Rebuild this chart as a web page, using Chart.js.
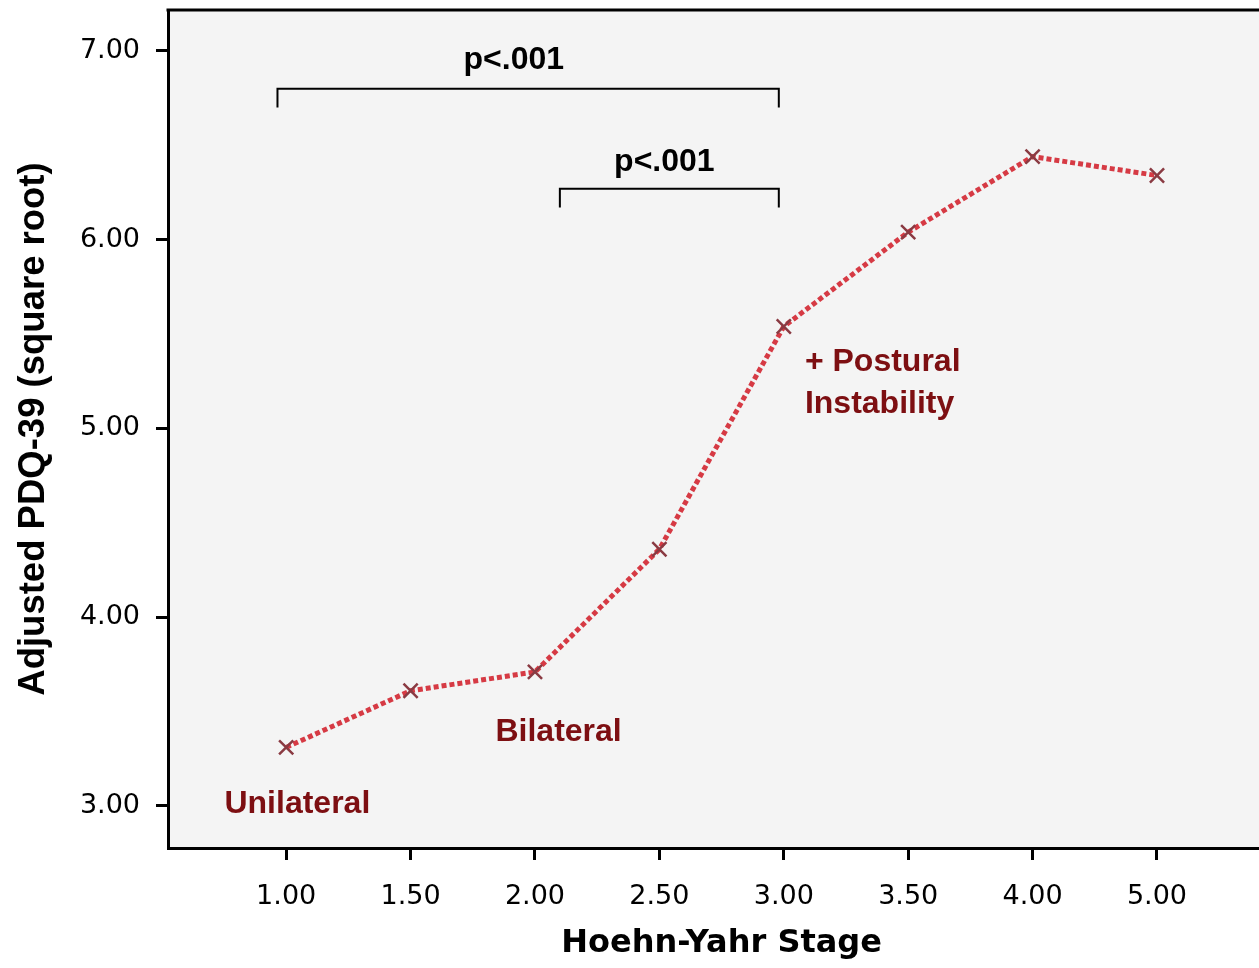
<!DOCTYPE html>
<html>
<head>
<meta charset="utf-8">
<script src="https://cdn.jsdelivr.net/npm/chart.js@4.4.0/dist/chart.umd.min.js"></script>
<style>
  html, body { margin: 0; padding: 0; background: #ffffff; overflow: hidden; }
  canvas { display: block; }
</style>
</head>
<body>
<canvas id="pdqChart" width="1259" height="968"></canvas>
<script>
// Hoehn-Yahr stages (equally spaced categories)
var stages = ['1.00', '1.50', '2.00', '2.50', '3.00', '3.50', '4.00', '5.00'];
var pdqValues = [3.31, 3.61, 3.71, 4.36, 5.54, 6.04, 6.44, 6.34];
var yTicks = [3, 4, 5, 6, 7];
var xTitle = 'Hoehn-Yahr Stage';

// significance brackets: [x from, x to (stage index), y top, y bottom]
var brackets = [[-0.07, 3.96, 6.80, 6.70], [2.20, 3.96, 6.27, 6.17]];
var bracketLabels = [['p<.001', 1.83, 6.95], ['p<.001', 3.04, 6.41]];
// group labels: [text, x, y, align]
var groupLabels = [
    ['Unilateral', 0.09, 3.01, 'center'],
    ['Bilateral', 2.19, 3.39, 'center'],
    ['+ Postural', 4.17, 5.35, 'left'],
    ['Instability', 4.17, 5.13, 'left']
];

var decorPlugin = {
    id: 'decor',
    beforeDraw: function (chart) {
        var c = chart.ctx, a = chart.chartArea;
        c.save();
        c.fillStyle = '#ffffff';
        c.fillRect(0, 0, chart.width, chart.height);
        c.fillStyle = '#f4f4f4';
        c.fillRect(a.left, a.top, a.right - a.left, a.bottom - a.top);
        c.restore();
    },
    afterDraw: function (chart) {
        var c = chart.ctx, a = chart.chartArea;
        var xs = chart.scales.x, ys = chart.scales.y;
        c.save();
        // top frame line
        c.strokeStyle = '#000';
        c.lineWidth = 3;
        c.beginPath();
        c.moveTo(a.left - 1.5, a.top);
        c.lineTo(a.right, a.top);
        c.stroke();

        c.lineWidth = 2;
        brackets.forEach(function (b) {
            var x1 = xs.getPixelForValue(b[0]), x2 = xs.getPixelForValue(b[1]);
            var yt = ys.getPixelForValue(b[2]), yb = ys.getPixelForValue(b[3]);
            c.beginPath();
            c.moveTo(x1, yb);
            c.lineTo(x1, yt);
            c.lineTo(x2, yt);
            c.lineTo(x2, yb);
            c.stroke();
        });

        c.fillStyle = '#000';
        c.font = 'bold 32px "Liberation Sans", Arial, sans-serif';
        c.textAlign = 'center';
        c.textBaseline = 'middle';
        bracketLabels.forEach(function (t) {
            c.fillText(t[0], xs.getPixelForValue(t[1]), ys.getPixelForValue(t[2]));
        });

        c.fillStyle = '#7d0f12';
        groupLabels.forEach(function (t) {
            c.textAlign = t[3];
            c.fillText(t[0], xs.getPixelForValue(t[1]), ys.getPixelForValue(t[2]));
        });

        // x axis title, centred on the tick range
        c.fillStyle = '#000';
        c.textAlign = 'center';
        c.font = 'bold 32px "DejaVu Sans", Verdana, sans-serif';
        var mid = (xs.getPixelForValue(0) + xs.getPixelForValue(stages.length - 1)) / 2;
        c.fillText(xTitle, mid, xs.bottom - 24);
        c.restore();
    }
};

var ctx = document.getElementById('pdqChart').getContext('2d');
var chart = new Chart(ctx, {
    type: 'line',
    data: {
        datasets: [{
            data: pdqValues.map(function (v, i) { return { x: i, y: v }; }),
            borderColor: 'rgba(214, 58, 68, 1)',
            borderWidth: 5,
            borderDash: [5, 3],
            fill: false,
            tension: 0,
            pointStyle: 'crossRot',
            pointRadius: 10,
            pointBorderWidth: 2.5,
            pointBorderColor: '#8a3a42',
            pointBackgroundColor: '#8a3a42'
        }]
    },
    options: {
        responsive: false,
        animation: false,
        layout: { autoPadding: false, padding: { top: 10, right: 0, left: 0, bottom: 0 } },
        plugins: {
            legend: { display: false },
            tooltip: { enabled: false }
        },
        scales: {
            x: {
                type: 'linear',
                min: -0.95,
                max: 7.82,
                afterFit: function (s) {
                    s.height = 120;
                    s.paddingLeft = 0;
                    s.paddingRight = 0;
                },
                afterBuildTicks: function (s) {
                    s.ticks = stages.map(function (_, i) { return { value: i }; });
                },
                ticks: {
                    color: '#000',
                    padding: 21,
                    maxRotation: 0,
                    font: { family: '"DejaVu Sans", Verdana, sans-serif', size: 27 },
                    callback: function (v) { return stages[v]; }
                },
                grid: { drawOnChartArea: false, drawTicks: true, tickLength: 12, tickWidth: 3, tickColor: '#000' },
                border: { display: true, color: '#000', width: 3 },
                title: { display: false }
            },
            y: {
                min: 2.777,
                max: 7.217,
                afterFit: function (s) {
                    s.width = 168;
                    s.paddingTop = 0;
                    s.paddingBottom = 0;
                },
                afterBuildTicks: function (s) {
                    s.ticks = yTicks.map(function (v) { return { value: v }; });
                },
                ticks: {
                    color: '#000',
                    padding: 16,
                    font: { family: '"DejaVu Sans", Verdana, sans-serif', size: 27 },
                    callback: function (v) { return Number(v).toFixed(2); }
                },
                grid: { drawOnChartArea: false, drawTicks: true, tickLength: 12, tickWidth: 3, tickColor: '#000' },
                border: { display: true, color: '#000', width: 3 },
                title: {
                    display: true,
                    text: 'Adjusted PDQ-39 (square root)',
                    color: '#000',
                    padding: { top: 12, bottom: 0 },
                    font: { family: '"Liberation Sans", Arial, sans-serif', size: 36.5, weight: 'bold' }
                }
            }
        }
    },
    plugins: [decorPlugin]
});
</script>
</body>
</html>
